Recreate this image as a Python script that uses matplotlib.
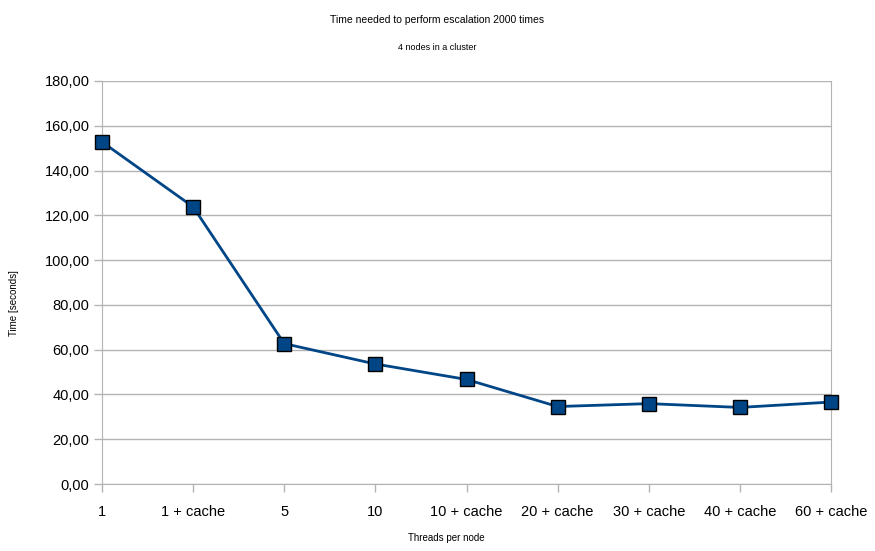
import matplotlib
matplotlib.use("Agg")
import matplotlib.pyplot as plt

# data
threads = ["1", "1 + cache", "5", "10", "10 + cache",
           "20 + cache", "30 + cache", "40 + cache", "60 + cache"]
seconds = [152.8, 123.8, 62.7, 53.6, 46.7, 34.6, 35.9, 34.2, 36.6]
yticks = [0, 20, 40, 60, 80, 100, 120, 140, 160, 180]

plt.rcParams['font.family'] = ['Liberation Sans', 'DejaVu Sans']

fig = plt.figure(figsize=(8.75, 5.51), dpi=100)
ax = fig.add_axes([102/875, 1 - 484/551, (831 - 102)/875, (484 - 81)/551])

x = range(len(threads))
ax.plot(x, seconds, color='#004586', linewidth=2.0, marker='s',
        markersize=9.5, markerfacecolor='#004586', markeredgecolor='black',
        markeredgewidth=1.0, zorder=3, clip_on=False)

ax.set_xlim(0, len(threads) - 1)
ax.set_ylim(0, 180)
ax.set_yticks(yticks)
ax.set_yticklabels(["%d,00" % v for v in yticks])
ax.set_xticks(list(x))
ax.set_xticklabels(threads)

ax.grid(axis='y', color='#b3b3b3', linewidth=1)
ax.set_axisbelow(True)
for side in ['left', 'right', 'bottom']:
    ax.spines[side].set_color('#b3b3b3')
ax.spines['top'].set_visible(False)
ax.tick_params(axis='both', colors='#b3b3b3', labelcolor='black',
               labelsize=10.5, length=6, width=1)
ax.tick_params(axis='y', pad=3)
ax.tick_params(axis='x', pad=9)

fig.text(0.5, 1 - 20/551, "Time needed to perform escalation 2000 times",
         ha='center', va='center', fontsize=7.5)
fig.text(0.5, 1 - 48/551, "4 nodes in a cluster",
         ha='center', va='center', fontsize=6.5)
fig.text(446/875, 1 - 538/551, "Threads per node",
         ha='center', va='center', fontsize=7)
fig.text(14/875, 1 - 303/551, "Time [seconds]", rotation=90,
         ha='center', va='center', fontsize=7)

fig.savefig("out.png", dpi=100)
